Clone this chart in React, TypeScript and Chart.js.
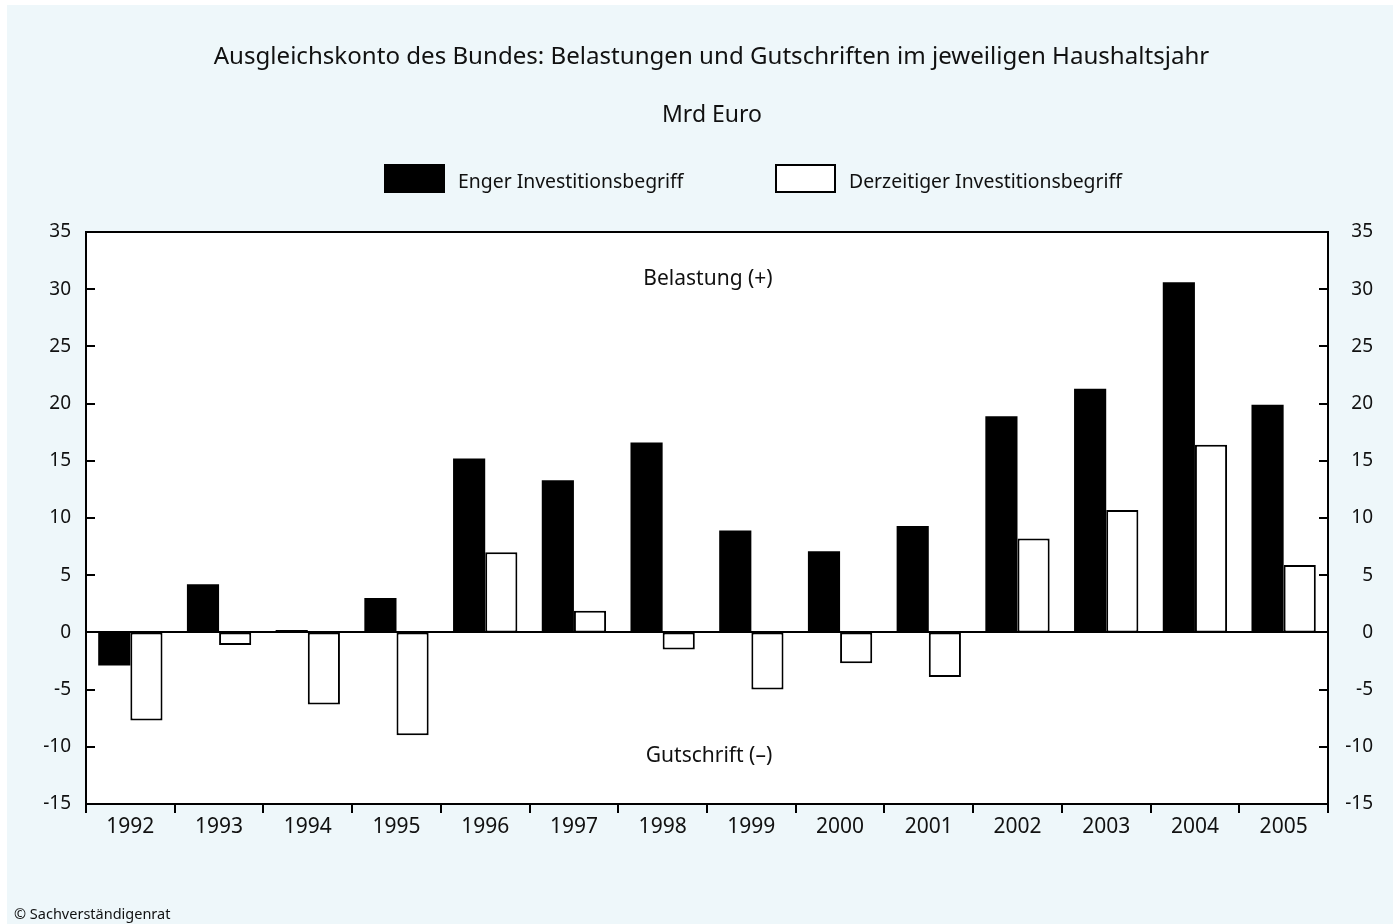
import React, { useEffect, useRef } from "react";
import { Chart, registerables } from "chart.js";

Chart.register(...registerables);

const years = ["1992", "1993", "1994", "1995", "1996", "1997", "1998", "1999", "2000", "2001", "2002", "2003", "2004", "2005"];
const engerValues = [-2.9, 4.2, 0.2, 3.0, 15.2, 13.3, 16.6, 8.9, 7.1, 9.3, 18.9, 21.3, 30.6, 19.9];
const derzeitigValues = [-7.7, -1.1, -6.3, -9.0, 7.0, 1.9, -1.5, -5.0, -2.7, -3.9, 8.2, 10.7, 16.4, 5.9];
const seriesLabels = ["Enger Investitionsbegriff", "Derzeitiger Investitionsbegriff"];
const yMin = -15;
const yMax = 35;
const yStep = 5;

const titleText = "Ausgleichskonto des Bundes: Belastungen und Gutschriften im jeweiligen Haushaltsjahr";
const subtitleText = "Mrd Euro";
const upperNote = "Belastung (+)";
const lowerNote = "Gutschrift (\u2013)";
const sourceText = "\u00A9 Sachverst\u00E4ndigenrat";

const FONT = "'Noto Sans', 'Open Sans', sans-serif";
const TEXT = "#111";

const decorPlugin = {
  id: "decor",
  beforeDraw(chart: any) {
    const { ctx, width, height } = chart;
    ctx.save();
    ctx.fillStyle = "#ffffff";
    ctx.fillRect(0, 0, width, height);
    ctx.fillStyle = "#eef7fa";
    ctx.fillRect(7, 5, width - 7, height - 5);
    const a = chart.chartArea;
    ctx.fillStyle = "#ffffff";
    ctx.fillRect(a.left, a.top, a.right - a.left, a.bottom - a.top);
    ctx.restore();
  },
  afterDatasetsDraw(chart: any) {
    const { ctx } = chart;
    const a = chart.chartArea;
    const ys = chart.scales.y;
    ctx.save();
    ctx.strokeStyle = "#000";
    ctx.lineWidth = 2;
    const y0 = Math.round(ys.getPixelForValue(0));
    ctx.beginPath();
    ctx.moveTo(a.left, y0);
    ctx.lineTo(a.right, y0);
    ctx.stroke();
    for (let v = yMin + yStep; v < yMax; v += yStep) {
      const py = Math.round(ys.getPixelForValue(v));
      ctx.beginPath();
      ctx.moveTo(a.left, py);
      ctx.lineTo(a.left + 9, py);
      ctx.moveTo(a.right - 9, py);
      ctx.lineTo(a.right, py);
      ctx.stroke();
    }
    ctx.strokeRect(a.left, a.top, a.right - a.left, a.bottom - a.top);
    ctx.restore();
  },
  afterDraw(chart: any) {
    const { ctx } = chart;
    ctx.save();
    ctx.fillStyle = TEXT;
    ctx.textBaseline = "alphabetic";
    ctx.textAlign = "center";
    ctx.font = `24.1px ${FONT}`;
    ctx.fillText(titleText, 711.5, 64);
    ctx.font = `23px ${FONT}`;
    ctx.fillText(subtitleText, 712, 122);
    ctx.font = `21px ${FONT}`;
    ctx.fillText(upperNote, 708, 285);
    ctx.fillText(lowerNote, 709, 762);
    const ds = chart.data.datasets;
    const items = [
      { x: 384, ds: ds[0] },
      { x: 775, ds: ds[1] },
    ];
    ctx.textAlign = "left";
    ctx.font = `19.4px ${FONT}`;
    items.forEach((it) => {
      ctx.fillStyle = it.ds.backgroundColor;
      ctx.fillRect(it.x, 164, 61, 29);
      ctx.strokeStyle = "#000";
      ctx.lineWidth = 2;
      ctx.strokeRect(it.x + 1, 165, 59, 27);
      ctx.fillStyle = TEXT;
      ctx.fillText(it.ds.label, it.x + 74, 188);
    });
    ctx.font = `14.5px ${FONT}`;
    ctx.fillText(sourceText, 14, 919);
    ctx.restore();
  },
};

export default function App() {
  const canvasRef = useRef<HTMLCanvasElement | null>(null);

  useEffect(() => {
    if (!canvasRef.current) return;
    const chart = new Chart(canvasRef.current, {
      type: "bar",
      data: {
        labels: years,
        datasets: [
          {
            label: seriesLabels[0],
            data: engerValues,
            backgroundColor: "#000000",
            borderColor: "#000000",
            borderWidth: 0,
            borderSkipped: false,
            categoryPercentage: 0.725,
            barPercentage: 1.0,
          },
          {
            label: seriesLabels[1],
            data: derzeitigValues,
            backgroundColor: "#ffffff",
            borderColor: "#000000",
            borderWidth: 2,
            borderSkipped: false,
            categoryPercentage: 0.725,
            barPercentage: 1.0,
          },
        ],
      },
      options: {
        responsive: false,
        animation: false,
        devicePixelRatio: 1,
        layout: { padding: { top: 232, left: 0, right: 20, bottom: 0 } },
        plugins: {
          legend: { display: false },
          title: { display: false },
          tooltip: { enabled: false },
        },
        scales: {
          x: {
            type: "category",
            offset: true,
            grid: {
              display: true,
              offset: true,
              drawOnChartArea: false,
              drawTicks: true,
              tickLength: 9,
              color: "#000",
              lineWidth: 2,
            },
            border: { display: false },
            ticks: {
              color: TEXT,
              font: { family: FONT, size: 21 },
              padding: 1,
              maxRotation: 0,
              autoSkip: false,
            },
            afterFit(scale: any) {
              scale.height = 120;
            },
          },
          y: {
            type: "linear",
            position: "left",
            min: yMin,
            max: yMax,
            grid: { display: false, drawTicks: false },
            border: { display: false },
            ticks: {
              stepSize: yStep,
              color: TEXT,
              font: { family: FONT, size: 19 },
              padding: 15,
            },
            afterFit(scale: any) {
              scale.width = 86;
            },
          },
          y2: {
            type: "linear",
            position: "right",
            display: true,
            min: yMin,
            max: yMax,
            grid: { display: false, drawTicks: false },
            border: { display: false },
            ticks: {
              stepSize: yStep,
              color: TEXT,
              font: { family: FONT, size: 19 },
              padding: 15,
              crossAlign: "far",
            },
            afterFit(scale: any) {
              scale.width = 45;
            },
          },
        },
      },
      plugins: [decorPlugin],
    });
    return () => chart.destroy();
  }, []);

  return (
    <div style={{ position: "absolute", left: 0, top: 0, width: 1393, height: 924 }}>
      <canvas ref={canvasRef} width={1393} height={924} style={{ display: "block" }} />
    </div>
  );
}
